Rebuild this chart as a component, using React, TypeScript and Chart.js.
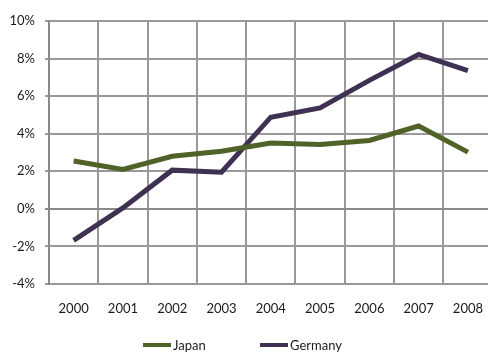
import React, { useEffect, useRef } from "react";
import { Chart, registerables } from "chart.js";

Chart.register(...registerables);

const years = ["2000", "2001", "2002", "2003", "2004", "2005", "2006", "2007", "2008"];
const japan = [2.55, 2.1, 2.8, 3.07, 3.51, 3.42, 3.64, 4.41, 3.02];
const germany = [-1.68, 0.05, 2.06, 1.95, 4.88, 5.37, 6.84, 8.22, 7.36];
const yMin = -4;
const yMax = 10;
const yStep = 2;

const series = [
  { label: "Japan", data: japan, color: "#4F6228" },
  { label: "Germany", data: germany, color: "#3F3151" },
];

const FONT = "Lato, 'Open Sans', sans-serif";
const TEXT = "#1a1a1a";

export default function App() {
  const ref = useRef<HTMLCanvasElement | null>(null);

  useEffect(() => {
    if (!ref.current) return;
    const chart = new Chart(ref.current, {
      type: "line",
      data: {
        labels: years,
        datasets: series.map((s) => ({
          label: s.label,
          data: s.data,
          borderColor: s.color,
          backgroundColor: s.color,
          borderWidth: 5,
          pointRadius: 0,
          tension: 0,
        })),
      },
      options: {
        animation: false,
        responsive: false,
        maintainAspectRatio: false,
        layout: { padding: { top: 21, left: 0, right: 0, bottom: 28 } },
        plugins: {
          tooltip: { enabled: false },
          legend: { display: false },
        },
        scales: {
          x: {
            type: "category",
            offset: true,
            grid: {
              offset: true,
              color: "#999999",
              lineWidth: 2,
              drawTicks: false,
            },
            border: { display: false },
            ticks: {
              color: TEXT,
              padding: 17,
              font: { family: FONT, size: 13 },
              maxRotation: 0,
            },
            afterFit: (s: any) => {
              s.height = 40;
            },
          },
          y: {
            min: yMin,
            max: yMax,
            ticks: {
              stepSize: yStep,
              color: TEXT,
              padding: 10,
              font: { family: FONT, size: 13 },
              callback: (v: any) => `${v}%`,
            },
            grid: {
              color: (ctx: any) => (ctx.tick && ctx.tick.value === 0 ? "#8a8a8a" : "#999999"),
              lineWidth: 2,
              tickLength: 4,
            },
            border: { display: true, color: "#8a8a8a", width: 2 },
            afterFit: (s: any) => {
              s.width = 49;
            },
          },
        },
      },
    });
    return () => chart.destroy();
  }, []);

  const legendPos = [143, 260];

  return (
    <div style={{ position: "fixed", left: 0, top: 0, width: 488, height: 352, overflow: "hidden", background: "#fff" }}>
      <canvas ref={ref} width={500} height={352} style={{ display: "block", width: 500, height: 352 }} />
      {series.map((s, i) => (
        <div
          key={s.label}
          style={{
            position: "absolute",
            left: legendPos[i],
            top: 337,
            height: 16,
            display: "flex",
            alignItems: "center",
            fontFamily: FONT,
            fontSize: 13,
            color: TEXT,
            whiteSpace: "nowrap",
          }}
        >
          <span style={{ display: "inline-block", width: 28, height: 4, background: s.color, marginRight: 2 }} />
          <span>{s.label}</span>
        </div>
      ))}
    </div>
  );
}
